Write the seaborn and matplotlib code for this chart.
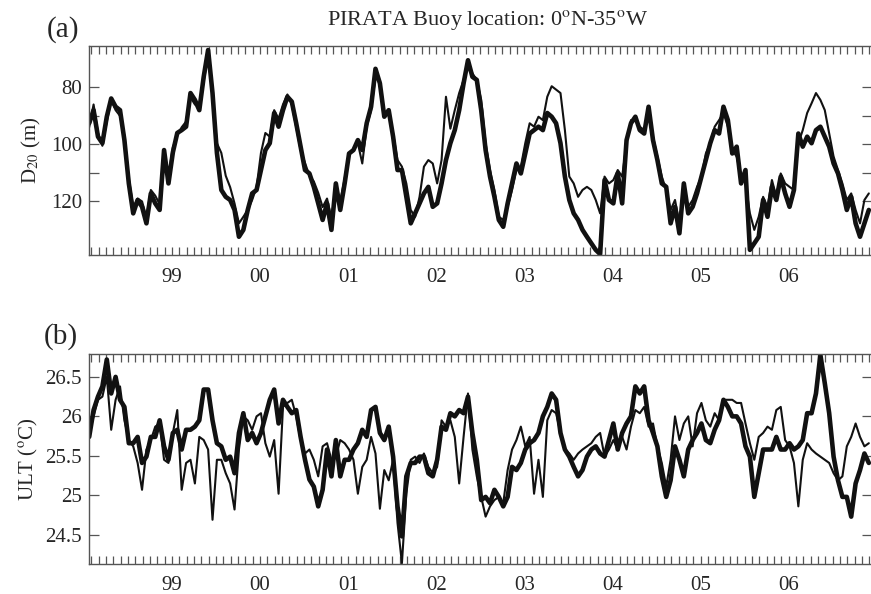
import matplotlib
matplotlib.use("Agg")
import matplotlib.pyplot as plt
from matplotlib.ticker import FixedLocator, FixedFormatter
import seaborn as sns
import numpy as np

# PIRATA buoy 0N-35W: thermocline depth (D20) and upper layer temperature (ULT)
# values, one every 0.05 yr starting 1998.06
t_start = 1998.06
t_step = 0.05

d20_thick = [
    92.6, 88, 97.3, 99.6, 90.3, 83.9, 86.8, 88, 98.5, 113.7, 124.2, 119.5, 121.9, 127.7, 117.2,
    120.7, 123, 102, 113.7, 102.8, 96, 95, 93.8, 82, 84.4, 88, 76.3, 66.9, 82, 103, 116, 118.4,
    119.5, 123, 132.4, 130, 123, 117.2, 116, 109, 102, 99.6, 89, 93.8, 88, 83.3, 85, 92.6, 100.8,
    109, 110.2, 114.9, 120.7, 126.5, 120.7, 130, 113.7, 123, 113.7,
    103.2, 102, 98.5, 102, 92.6, 86.8, 73.5, 78.6, 90.3, 88, 97.3, 109, 109, 118.4, 127.7, 124.2,
    120.7, 117.2, 114.9, 121.9, 120.7, 113.7, 105.5, 99.6, 95, 88, 78.6, 70.5, 76.3, 77.4, 88, 102,
    111.3, 118.4, 126.5, 128.9, 120.7, 113.7, 106.7, 110.2, 103.2, 96.2, 95, 93.8, 95, 89, 90.3,
    92.6, 99.6, 111.3, 119.5, 124.2, 126.5, 130, 132.4, 134.7, 137, 138.5,
    112.5, 119.5, 120.7, 110.2, 120.7, 98.5, 92.6, 90.3, 95, 96.2, 86.8, 98.5, 105.5, 113.7, 114.9,
    127.7, 121.9, 131.2, 113.7, 124.2, 121.9, 117.2, 111.3, 105.5, 99.6, 95, 96.2, 86.8, 91.5, 103.2,
    100.8, 113.7, 109, 137, 134.7, 132.4, 119.5, 125.4, 114.9, 119.5, 111.3, 117.2, 121.9, 116, 96.2,
    100.8, 97.3, 99.6, 95, 93.8, 97.3, 100.8, 106.7, 110.2, 116, 123, 118.4, 127.7, 132.4, 127.7, 123,
]
d20_thin = [
    94, 86, 96, 100.5, 92, 84.5, 88, 90, 97, 112, 122, 119, 120, 125.5, 116, 118, 121, 104, 111,
    101, 97, 94, 92, 83.5, 86, 87, 78, 68.5, 83, 99.6, 103, 111, 115, 120.7, 127.7, 125.4, 123,
    119.5, 115, 103, 96, 97.3, 88, 91, 86, 82.5, 86, 94, 102, 106.5, 111, 113, 117, 122, 119, 126,
    115, 120, 112,
    103.2, 102, 99.6, 106.7, 93.8, 88, 76.3, 77.4, 90.3, 89, 96.2, 105.5, 107.8, 113.7, 123, 125.4,
    118.4, 107.8, 105.5, 106.7, 113.7, 105.5, 83.3, 94.5, 88, 82, 77.4, 71.6, 75.1, 77.4, 84.4, 99.6,
    109, 116, 125.4, 126.5, 121.9, 116, 109, 107.8, 99.6, 92.6, 93.8, 90.3, 91.5, 83.3, 79.6, 80.8,
    82, 95, 111.3, 113.7, 118.4, 116, 114.9, 116, 119.5, 124.2,
    111.3, 113.7, 112.5, 109, 111.3, 99.6, 91.5, 91.5, 93.8, 95, 89, 97.3, 104.3, 111.3, 116, 123,
    119.5, 127.7, 116, 121.9, 119.5, 114.9, 111.3, 103.2, 99.6, 93.8, 91.5, 89, 93.8, 102, 104.3,
    111.3, 113.7, 124.2, 130, 125.4, 118.4, 121.9, 112.5, 118.4, 110.2, 113.7, 114.9, 116, 99.6, 95,
    89, 85.6, 82, 84.4, 88, 96.2, 104.3, 109, 113.7, 119.5, 117.2, 123, 127.7, 119.5, 117.2,
]
ult_thick = [
    25.74, 26.08, 26.25, 26.38, 26.72, 26.29, 26.5, 26.21, 26.12, 25.66, 25.66, 25.74, 25.41, 25.49,
    25.74, 25.74, 25.95, 25.62, 25.45, 25.79, 25.83, 25.58, 25.83, 25.83, 25.87, 25.95, 26.34, 26.34,
    25.95, 25.66, 25.62, 25.45, 25.49, 25.28, 25.79, 26.04, 25.70, 25.79, 25.66, 25.79, 26.0, 26.21,
    26.34, 25.91, 26.21, 26.12, 26.04, 26.08, 25.74, 25.45, 25.2, 25.11, 24.86, 25.07, 25.58, 25.24,
    25.70, 25.24, 25.45,
    25.45, 25.58, 25.66, 25.83, 25.74, 26.08, 26.12, 25.79, 25.70, 25.87, 25.49, 24.86, 24.48, 25.24,
    25.41, 25.41, 25.49, 25.49, 25.28, 25.24, 25.45, 25.87, 25.83, 26.04, 26.0, 26.08, 26.04, 26.25,
    25.79, 25.45, 24.94, 24.98, 24.90, 25.07, 24.98, 24.86, 24.98, 25.36, 25.32, 25.41, 25.58, 25.66,
    25.70, 25.79, 26.0, 26.12, 26.29, 26.21, 25.79, 25.58, 25.49, 25.36, 25.24, 25.32, 25.49, 25.58,
    25.62, 25.53,
    25.49, 25.70, 25.91, 25.58, 25.79, 25.91, 26.0, 26.38, 26.29, 26.38, 25.95, 25.79, 25.62, 25.24,
    24.98, 25.19, 25.62, 25.45, 25.24, 25.58, 25.70, 25.79, 25.91, 25.70, 25.66, 25.83, 25.95, 26.21,
    26.12, 26.0, 26.0, 25.91, 25.62, 25.49, 24.98, 25.28, 25.58, 25.58, 25.58, 25.74, 25.58, 25.58,
    25.66, 25.58, 25.62, 25.70, 26.04, 26.04, 26.29, 26.78, 26.42, 26.04, 25.49, 25.19, 24.98, 24.98,
    24.73, 25.15, 25.32, 25.53, 25.41,
]
ult_thin = [
    25.79, 26.0, 26.21, 26.25, 26.5, 25.83, 26.21, 26.38, 25.95, 25.70, 25.62, 25.41, 25.07, 25.58,
    25.70, 25.87, 25.91, 25.45, 25.41, 25.79, 26.08, 25.07, 25.41, 25.45, 25.15, 25.74, 25.70, 25.58,
    24.69, 25.45, 25.45, 25.28, 25.15, 24.82, 25.58, 26.0, 25.95, 25.83, 26.0, 26.04, 25.66, 25.49,
    25.70, 25.02, 26.12, 26.17, 26.21, 26.0, 25.70, 25.53, 25.58, 25.45, 25.24, 25.62, 25.66, 25.45,
    25.49, 25.70, 25.66,
    25.58, 25.45, 25.02, 25.36, 25.45, 25.74, 25.53, 24.83, 25.32, 25.19, 25.45, 24.65, 24.14, 25.02,
    25.45, 25.49, 25.41, 25.53, 25.36, 25.28, 25.36, 25.95, 25.87, 25.95, 25.74, 25.15, 25.74, 26.29,
    25.58, 25.24, 24.98, 24.73, 24.86, 24.94, 24.98, 24.90, 25.32, 25.58, 25.70, 25.87, 25.62, 25.74,
    25.02, 25.45, 24.98, 25.95, 26.08, 26.04, 25.79, 25.58, 25.53, 25.45, 25.53, 25.58, 25.62, 25.66,
    25.74, 25.79,
    25.49, 25.58, 25.70, 25.58, 25.74, 25.58, 25.87, 26.08, 26.04, 26.12, 25.87, 25.91, 25.62, 25.41,
    25.11, 25.45, 26.0, 25.70, 25.91, 26.0, 25.62, 26.04, 26.17, 25.95, 25.87, 26.04, 25.95, 26.21,
    26.21, 26.21, 26.17, 26.17, 25.91, 25.66, 25.45, 25.74, 25.79, 25.87, 25.83, 26.08, 26.12, 25.70,
    25.62, 25.41, 24.86, 25.45, 25.66, 25.58, 25.53, 25.49, 25.45, 25.41, 25.28, 25.19, 25.24, 25.62,
    25.74, 25.91, 25.74, 25.62, 25.66,
]

years = [1999, 2000, 2001, 2002, 2003, 2004, 2005, 2006]
year_labels = ['99', '00', '01', '02', '03', '04', '05', '06']

t = t_start + t_step * np.arange(len(d20_thick))

sns.set_style('ticks')
plt.rcParams['font.family'] = ['Liberation Serif', 'DejaVu Serif']
plt.rcParams['mathtext.fontset'] = 'stix'

W, H = 871, 594
fig = plt.figure(figsize=(W / 100, H / 100), dpi=100)
ax1 = fig.add_axes([89 / W, 1 - 255 / H, 783 / W, 209 / H])
ax2 = fig.add_axes([89 / W, 1 - 564 / H, 783 / W, 210 / H])

ink = '#111111'
for ax, thick, thin in [(ax1, d20_thick, d20_thin), (ax2, ult_thick, ult_thin)]:
    sns.lineplot(x=t, y=thin, ax=ax, color=ink, lw=1.5)
    sns.lineplot(x=t, y=thick, ax=ax, color=ink, lw=3.3)
    ax.set_xlim(1998.058, 2006.946)
    ax.xaxis.set_major_locator(FixedLocator(years))
    ax.xaxis.set_major_formatter(FixedFormatter(year_labels))
    ax.xaxis.set_minor_locator(FixedLocator(np.arange(1998, 2007.01, 1 / 12)))
    ax.tick_params(axis='x', which='both', direction='in', top=True, bottom=True,
                   length=6, width=0.9, color='#555555', labelsize=15, pad=9)
    ax.tick_params(axis='y', which='both', direction='in', left=True, right=True,
                   length=7, width=0.9, color='#555555', labelsize=15, pad=5)
    for s in ax.spines.values():
        s.set_color('#555555')
        s.set_linewidth(1.0)
    ax.set_xlabel('')

ax1.set_ylim(138.8, 65.5)
ax1.yaxis.set_major_locator(FixedLocator([80, 100, 120]))
ax1.yaxis.set_minor_locator(FixedLocator([90, 110]))
ax1.set_ylabel(r'D$_{20}$ (m)', fontsize=15, labelpad=6)

ax2.set_ylim(24.13, 26.79)
ax2.yaxis.set_major_locator(FixedLocator([24.5, 25, 25.5, 26, 26.5]))
ax2.yaxis.set_major_formatter(FixedFormatter(['24.5', '25', '25.5', '26', '26.5']))
ax2.set_ylabel(r'ULT ($^{\rm o}$C)', fontsize=15, labelpad=4)

fig.text(488 / W, 1 - 20 / H, r'PIRATA Buoy location: 0$^{\rm o}$N-35$^{\rm o}$W',
         ha='center', va='center', fontsize=16)
fig.text(47 / W, 1 - 30 / H, '(a)', ha='left', va='center', fontsize=21)
fig.text(44 / W, 1 - 337 / H, '(b)', ha='left', va='center', fontsize=21)

fig.savefig('out.png', dpi=100)
